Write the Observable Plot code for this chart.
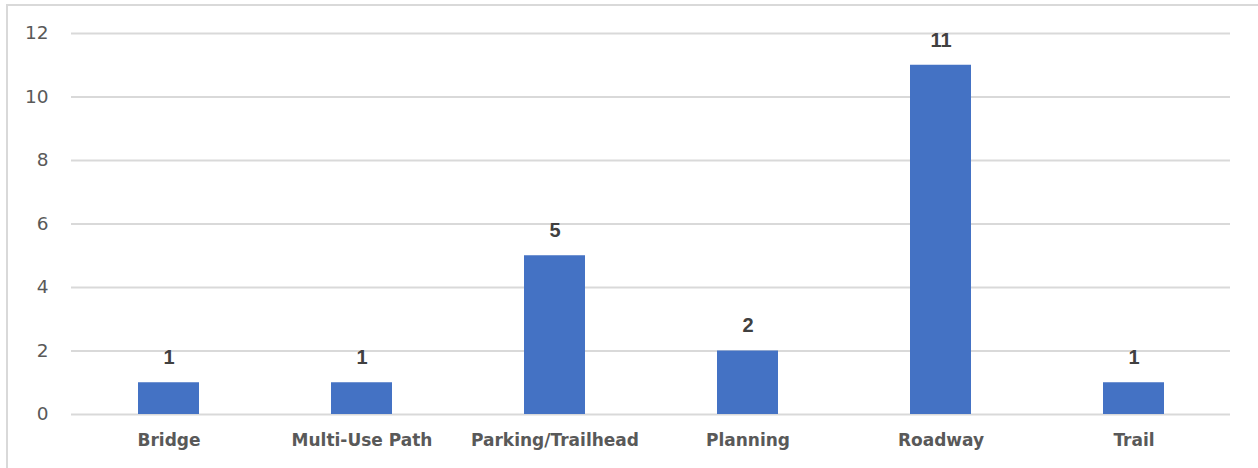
<!DOCTYPE html>
<html>
<head>
<meta charset="utf-8">
<script src="https://cdn.jsdelivr.net/npm/d3@7"></script>
<script src="https://cdn.jsdelivr.net/npm/@observablehq/plot@0.6"></script>
<style>
  html, body { margin: 0; padding: 0; background: #fff; }
  #wrap { position: relative; width: 1258px; height: 468px; overflow: hidden; }
  #border { position: absolute; left: 6px; top: 4px; width: 1260px; height: 470px; border: 2px solid #d9d9d9; box-sizing: border-box; pointer-events: none; }
  #chart svg { display: block; }
</style>
</head>
<body>
<div id="wrap"><div id="chart"></div><div id="border"></div></div>
<script>
const categories = ["Bridge", "Multi-Use Path", "Parking/Trailhead", "Planning", "Roadway", "Trail"];
const counts = [1, 1, 5, 2, 11, 1];
const yTicks = [0, 2, 4, 6, 8, 10, 12];

const data = categories.map((c, i) => ({category: c, count: counts[i]}));

const chart = Plot.plot({
  width: 1258,
  height: 468,
  marginLeft: 71,
  marginRight: 28,
  marginTop: 33,
  marginBottom: 54,
  style: {fontFamily: "'DejaVu Sans', sans-serif", background: "#fff"},
  x: {domain: categories, paddingInner: 0.684, paddingOuter: 0.342, align: 0.5, label: null, axis: null},
  y: {domain: [0, 12], ticks: yTicks, label: null, axis: null},
  marks: [
    Plot.gridY(yTicks, {stroke: "#d9d9d9", strokeOpacity: 1, strokeWidth: 2}),
    Plot.axisY(yTicks, {tickSize: 0, tickPadding: 23, fontSize: 18.5, fill: "#595959", label: null, fontFamily: "'DejaVu Sans', sans-serif"}),
    Plot.axisX(categories, {tickSize: 0, tickPadding: 19, fontSize: 17, fontWeight: "bold", fill: "#595959", label: null, fontFamily: "'DejaVu Sans', sans-serif"}),
    Plot.barY(data, {x: "category", y: "count", fill: "#4472C4"}),
    Plot.text(data, {x: "category", y: "count", text: d => String(d.count), dy: -25, fontSize: 20, fontWeight: "bold", fill: "#404040", fontFamily: "'Liberation Sans', sans-serif"})
  ]
});
document.getElementById("chart").appendChild(chart);
</script>
</body>
</html>
